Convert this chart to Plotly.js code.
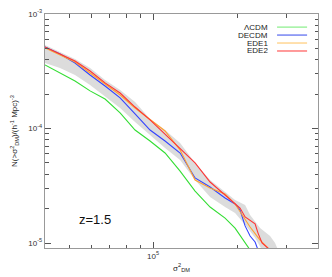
<!DOCTYPE html>
<html><head><meta charset="utf-8">
<script src="https://cdn.plot.ly/plotly-3.0.1.min.js"></script>
<style>html,body{margin:0;padding:0;background:#fff}#c{width:332px;height:277px}</style>
</head><body><div id="c"></div>
<script>
// sigma^2_DM values and N(>sigma^2) values
const lcdmX = [41000,46400,52530,59470,67300,76190,86200,97550,110400,125000,141440,160100,181140,196740,213700,222700];
const lcdmY = [3.59e-4,3.05e-4,2.60e-4,2.13e-4,1.81e-4,1.37e-4,9.70e-5,7.78e-5,6.11e-5,4.25e-5,2.84e-5,2.06e-5,1.65e-5,1.35e-5,1.02e-5,8.69e-6];

const decdmX = [41000,46400,52530,59470,67300,76190,86200,97550,110400,125000,141440,160100,181140,196740,205000,213700,222700,232070,237800];
const decdmY = [5.15e-4,4.47e-4,3.73e-4,2.93e-4,2.35e-4,1.85e-4,1.34e-4,9.70e-5,7.78e-5,6.11e-5,3.70e-5,3.08e-5,2.47e-5,2.19e-5,1.94e-5,1.41e-5,1.15e-5,1.02e-5,8.69e-6];

const ede1X = [41000,46400,52530,59470,67300,76190,86200,97550,110400,125000,141440,160100,181140,196740,205000,222700,241800,258400];
const ede1Y = [5.05e-4,4.38e-4,3.81e-4,3.05e-4,2.45e-4,1.96e-4,1.51e-4,1.19e-4,9.51e-5,6.49e-5,3.55e-5,3.02e-5,2.68e-5,2.19e-5,1.87e-5,1.38e-5,1.06e-5,9.04e-6];

const ede2X = [41000,46400,52530,59470,67300,76190,86200,97550,110400,125000,141440,160100,181140,196740,205000,213700,232070,237800,245800,262600];
const ede2Y = [5.15e-4,4.47e-4,3.89e-4,3.18e-4,2.50e-4,2.04e-4,1.54e-4,1.19e-4,8.95e-5,6.76e-5,5.00e-5,3.41e-5,2.62e-5,2.23e-5,2.02e-5,1.69e-5,1.47e-5,1.22e-5,1.00e-5,8.69e-6];

const bandX  = [41000,46400,52530,59470,67300,76190,86200,97550,110400,125000,141440,160100,181140,196740,213700,222700,241800,262600,273700,280500];
const bandHi = [5.36e-4,4.66e-4,4.05e-4,3.38e-4,2.65e-4,2.17e-4,1.70e-4,1.21e-4,9.70e-5,7.47e-5,5.00e-5,3.55e-5,2.79e-5,2.37e-5,2.15e-5,1.76e-5,1.35e-5,1.15e-5,1.00e-5,8.69e-6];
const bandLoX = [41000,46400,52530,59470,67300,76190,86200,97550,110400,125000,141440,160100,181140,196740,213700,232070,245800];
const bandLo  = [3.73e-4,3.38e-4,2.93e-4,2.40e-4,1.92e-4,1.51e-4,1.14e-4,8.77e-5,6.76e-5,5.31e-5,3.55e-5,2.52e-5,2.06e-5,1.83e-5,1.44e-5,1.11e-5,8.69e-6];

const seriesNames = ['\u039bCDM','DECDM','EDE1','EDE2'];
const lineColors = ['#33dd33','#3344ff','#ffa030','#ff3333'];
const legendColors = ['#88ee88','#5566ee','#ffcc77','#ff9999'];

const xMinor = [50000,60000,70000,80000,90000,200000,300000];
const yMinor = [2e-5,3e-5,4e-5,5e-5,6e-5,7e-5,8e-5,9e-5,2e-4,3e-4,4e-4,5e-4,6e-4,7e-4,8e-4,9e-4];

const polyX = bandX.concat(bandLoX.slice().reverse());
const polyY = bandHi.concat(bandLo.slice().reverse());

const traces = [
  {x: polyX, y: polyY, mode:'lines', fill:'toself', fillcolor:'#dcdcdc', line:{width:0, color:'#dcdcdc'}, hoverinfo:'skip'},
  {x: lcdmX, y: lcdmY, mode:'lines', line:{color:lineColors[0], width:1.1}},
  {x: decdmX, y: decdmY, mode:'lines', line:{color:lineColors[1], width:1.1}},
  {x: ede1X, y: ede1Y, mode:'lines', line:{color:lineColors[2], width:1.1}},
  {x: ede2X, y: ede2Y, mode:'lines', line:{color:lineColors[3], width:1.1}}
];

const legY = [0.944, 0.910, 0.876, 0.842];
const annotations = seriesNames.map((n,i)=>({xref:'paper', yref:'paper', x:0.826, y:legY[i], text:n, showarrow:false, xanchor:'right', yanchor:'middle', font:{size:8, color:'#222'}}));
annotations.push({xref:'paper', yref:'paper', x:0.183, y:0.12, text:'z=1.5', showarrow:false, xanchor:'center', yanchor:'middle', font:{size:13, color:'#111'}});
const shapes = seriesNames.map((n,i)=>({type:'line', xref:'paper', yref:'paper', x0:0.85, x1:0.96, y0:legY[i], y1:legY[i], line:{color:legendColors[i], width: i===3?2:1.2}}));

const axisCommon = {type:'log', showgrid:false, zeroline:false, showline:true, linecolor:'#999', linewidth:1.2, mirror:'ticks', ticks:'inside', ticklen:6, tickcolor:'#555', tickwidth:1, tickfont:{size:8, color:'#333'}};

const layout = {
  width:332, height:277, margin:{l:45, r:14, t:14, b:29},
  paper_bgcolor:'#fff', plot_bgcolor:'#fff', showlegend:false,
  font:{family:'Liberation Sans, Arial, sans-serif', color:'#222'},
  xaxis: Object.assign({}, axisCommon, {range:[Math.log10(41000), Math.log10(390000)], tickmode:'array', tickvals:[100000], ticktext:['10<sup>5</sup>'],
    minor:{tickmode:'array', tickvals:xMinor, ticklen:3.5, tickcolor:'#555', ticks:'inside'},
    title:{text:'\u03c3<sup>2</sup><sub>DM</sub>', font:{size:8, color:'#222'}, standoff:5}}),
  yaxis: Object.assign({}, axisCommon, {range:[-5.0437, -3], tickmode:'array', tickvals:[1e-5,1e-4,1e-3], ticktext:['10<sup>-5</sup>','10<sup>-4</sup>','10<sup>-3</sup>'],
    minor:{tickmode:'array', tickvals:yMinor, ticklen:3.5, tickcolor:'#555', ticks:'inside'},
    title:{text:'N(>\u03c3<sup>2</sup><sub>DM</sub>)/(h<sup>-1</sup> Mpc)<sup>-3</sup>', font:{size:8, color:'#222'}, standoff:9}}),
  annotations: annotations, shapes: shapes
};
Plotly.newPlot('c', traces, layout, {displayModeBar:false, staticPlot:true});
</script></body></html>
